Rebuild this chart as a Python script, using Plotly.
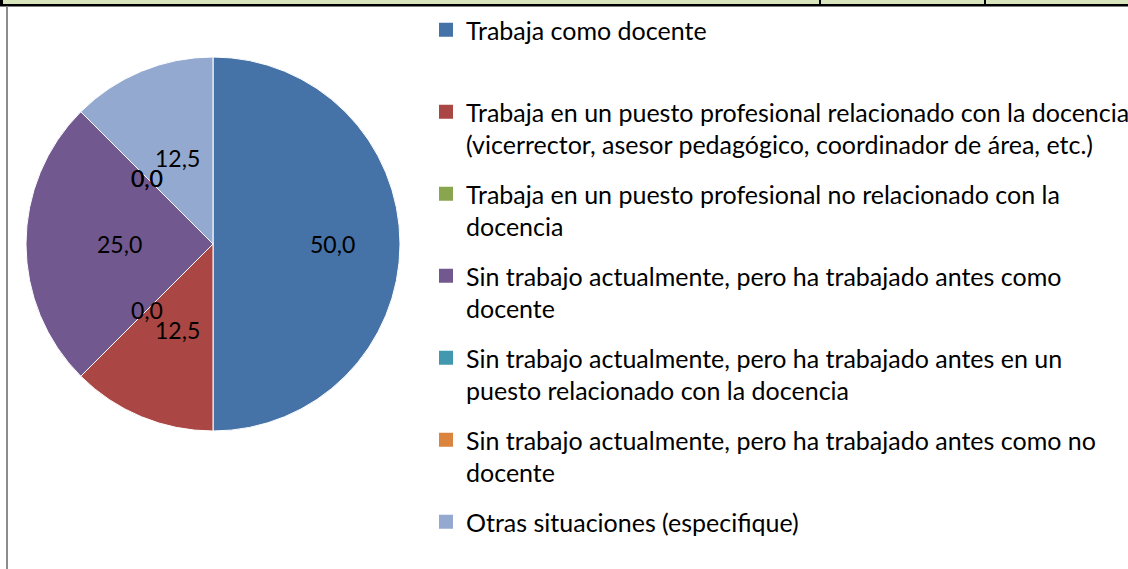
import math
import plotly.graph_objects as go

categories = [
    "Trabaja como docente",
    "Trabaja en un puesto profesional relacionado con la docencia<br>(vicerrector, asesor pedagógico, coordinador de área, etc.)",
    "Trabaja en un puesto profesional no relacionado con la<br>docencia",
    "Sin trabajo actualmente, pero ha trabajado antes como<br>docente",
    "Sin trabajo actualmente, pero ha trabajado antes en un<br>puesto relacionado con la docencia",
    "Sin trabajo actualmente, pero ha trabajado antes como no<br>docente",
    "Otras situaciones (especifique)",
]
values = [50.0, 12.5, 0.0, 25.0, 0.0, 0.0, 12.5]
colors = ["#4572A7", "#AA4643", "#89A54E", "#71588F", "#4198AF", "#DB843D", "#93A9CF"]

W, H = 1128, 569
FONT = "Lato"

# pie geometry (pixels)
cx, cy, R = 213, 244, 187

fig = go.Figure()
fig.add_trace(go.Pie(
    labels=categories, values=values, sort=False, direction="clockwise", rotation=0,
    marker=dict(colors=colors, line=dict(color="white", width=1)),
    textinfo="none", hoverinfo="label+value", showlegend=False,
    domain=dict(x=[(cx - R) / W, (cx + R) / W], y=[(H - cy - R) / H, (H - cy + R) / H]),
))

# legend entries
for lab, col in zip(categories, colors):
    name = lab if "<br>" in lab or lab.startswith("Otras") else lab + "<br> "
    fig.add_trace(go.Scatter(
        x=[None], y=[None], mode="markers", name=name, legendgroup=lab,
        marker=dict(symbol="square", size=14, color=col), showlegend=True,
    ))

# data labels (computed from the values)
total = sum(values)
cum = 0.0
annotations = []
for v in values:
    mid = (cum + v / 2) / total * 2 * math.pi
    cum += v
    frac = 0.64 if v / total >= 0.5 else 0.5
    px = cx + frac * R * math.sin(mid)
    py = cy - frac * R * math.cos(mid)
    annotations.append(dict(
        x=px / W, y=1 - py / H, xref="paper", yref="paper",
        text=f"{v:.1f}".replace(".", ","), showarrow=False,
        font=dict(family=FONT, size=23, color="black"),
        xanchor="center", yanchor="middle",
    ))

shapes = [
    dict(type="rect", xref="paper", yref="paper", x0=0, x1=1, y0=1 - 4 / H, y1=1,
         fillcolor="#D8E4BC", line=dict(width=0), layer="above"),
    dict(type="rect", xref="paper", yref="paper", x0=0, x1=1, y0=1 - 6 / H, y1=1 - 4 / H,
         fillcolor="black", line=dict(width=0), layer="above"),
    dict(type="rect", xref="paper", yref="paper", x0=0, x1=1, y0=1 - 7 / H, y1=1 - 6 / H,
         fillcolor="#808080", line=dict(width=0), layer="above"),
    dict(type="rect", xref="paper", yref="paper", x0=0, x1=3 / W, y0=1 - 6 / H, y1=1,
         fillcolor="black", line=dict(width=0), layer="above"),
    dict(type="rect", xref="paper", yref="paper", x0=819 / W, x1=821 / W, y0=1 - 6 / H, y1=1,
         fillcolor="black", line=dict(width=0), layer="above"),
    dict(type="rect", xref="paper", yref="paper", x0=984 / W, x1=986 / W, y0=1 - 6 / H, y1=1,
         fillcolor="black", line=dict(width=0), layer="above"),
    dict(type="rect", xref="paper", yref="paper", x0=6 / W, x1=8 / W, y0=0, y1=1 - 6 / H,
         fillcolor="#8C8C8C", line=dict(width=0), layer="above"),
]

fig.update_layout(
    width=W, height=H,
    margin=dict(l=0, r=0, t=0, b=0, autoexpand=False),
    paper_bgcolor="white", plot_bgcolor="white",
    xaxis=dict(visible=False), yaxis=dict(visible=False),
    annotations=annotations, shapes=shapes,
    legend=dict(
        x=426 / W, y=1 - 7 / H, xanchor="left", yanchor="top",
        font=dict(family=FONT, size=25, color="black"),
        valign="top", traceorder="grouped", tracegroupgap=14,
        bgcolor="rgba(0,0,0,0)",
    ),
    font=dict(family=FONT),
)

fig.write_html(
    "out.html",
    config={"displayModeBar": False},
    post_script="document.body.style.margin='0';document.body.style.overflow='hidden';",
)
